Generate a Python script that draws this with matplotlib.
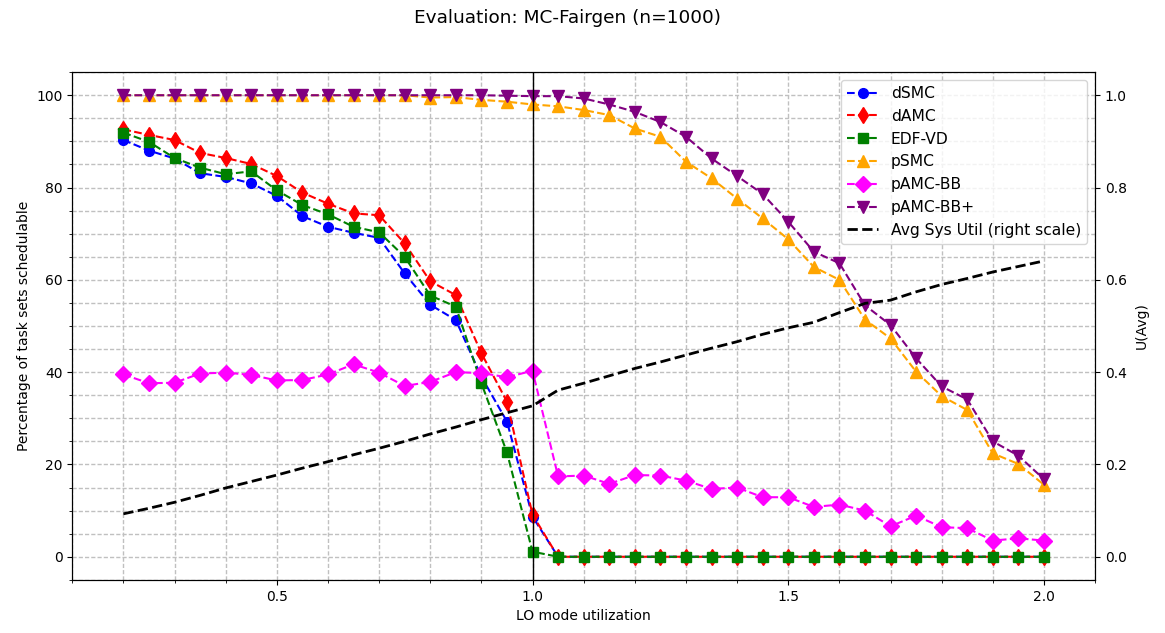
import numpy as np
import matplotlib
matplotlib.use('Agg')
from matplotlib import pyplot as plt
from matplotlib.ticker import MultipleLocator

# LO mode utilization steps
lo_util = [0.2, 0.25, 0.3, 0.35, 0.4, 0.45, 0.5, 0.55, 0.6, 0.65, 0.7, 0.75,
           0.8, 0.85, 0.9, 0.95, 1.0, 1.05, 1.1, 1.15, 1.2, 1.25, 1.3, 1.35,
           1.4, 1.45, 1.5, 1.55, 1.6, 1.65, 1.7, 1.75, 1.8, 1.85, 1.9, 1.95, 2.0]

zeros_after_1 = [0.0] * 20

dsmc = [90.3, 88.0, 86.3, 83.1, 82.3, 80.9, 78.2, 73.8, 71.5, 70.2, 69.1,
        61.4, 54.6, 51.3, 39.0, 29.3, 8.7] + zeros_after_1
damc = [92.6, 91.4, 90.3, 87.5, 86.4, 85.1, 82.5, 78.9, 76.5, 74.4, 74.0,
        67.9, 59.7, 56.7, 44.1, 33.6, 9.1] + zeros_after_1
edf_vd = [91.9, 89.9, 86.4, 84.3, 82.9, 83.5, 79.4, 76.2, 74.2, 71.5, 70.3,
          65.0, 56.6, 54.2, 37.6, 22.6, 1.1] + zeros_after_1
psmc = [100.0, 100.0, 100.0, 100.0, 100.0, 100.0, 100.0, 100.0, 100.0, 100.0,
        100.0, 100.0, 99.5, 99.6, 99.0, 98.6, 98.0, 97.6, 96.8, 95.7, 92.8,
        91.0, 85.6, 82.0, 77.6, 73.3, 68.8, 62.8, 60.0, 51.4, 47.3, 40.1,
        34.8, 31.8, 22.4, 20.1, 15.6]
pamc_bb = [39.5, 37.6, 37.7, 39.7, 39.9, 39.4, 38.2, 38.3, 39.5, 41.7, 39.9,
           37.0, 37.9, 40.0, 39.8, 38.9, 40.3, 17.4, 17.6, 15.8, 17.7, 17.6,
           16.5, 14.7, 15.0, 12.9, 12.9, 10.8, 11.3, 10.0, 6.6, 8.9, 6.4,
           6.2, 3.5, 4.0, 3.5]
pamc_bb_plus = [100.0, 100.0, 100.0, 100.0, 100.0, 100.0, 100.0, 100.0,
                100.0, 100.0, 100.0, 100.0, 100.0, 100.0, 100.0, 99.9, 99.8,
                99.8, 99.3, 98.0, 96.4, 94.2, 91.0, 86.3, 82.5, 78.6, 72.6,
                66.1, 63.6, 54.5, 50.2, 43.0, 36.9, 34.1, 25.0, 21.9, 16.8]
avg_util = [0.093, 0.105, 0.118, 0.133, 0.149, 0.163, 0.177, 0.192, 0.206,
            0.221, 0.235, 0.250, 0.266, 0.281, 0.297, 0.312, 0.327, 0.361,
            0.376, 0.392, 0.408, 0.422, 0.437, 0.452, 0.466, 0.482, 0.496,
            0.508, 0.529, 0.549, 0.556, 0.574, 0.590, 0.603, 0.617, 0.629,
            0.641]

fig, ax1 = plt.subplots(figsize=(11.65, 6.33), dpi=100)
fig.subplots_adjust(left=0.062, right=0.94, top=0.886, bottom=0.084)
fig.suptitle('Evaluation: MC-Fairgen (n=1000)', fontsize=13.3, x=0.487,
             y=0.985)

l1, = ax1.plot(lo_util, dsmc, 'o--', color='blue', ms=7, label='dSMC')
l2, = ax1.plot(lo_util, damc, 'd--', color='red', ms=8, label='dAMC')
l3, = ax1.plot(lo_util, edf_vd, 's--', color='green', ms=7, label='EDF-VD')
l4, = ax1.plot(lo_util, psmc, '^--', color='orange', ms=8, label='pSMC')
l5, = ax1.plot(lo_util, pamc_bb, 'D--', color='magenta', ms=8, label='pAMC-BB')
l6, = ax1.plot(lo_util, pamc_bb_plus, 'v--', color='purple', ms=8,
               label='pAMC-BB+')
ax1.axvline(1.0, color='black', lw=1)

ax1.set_xlabel('LO mode utilization')
ax1.set_ylabel('Percentage of task sets schedulable')
ax1.xaxis.set_major_locator(MultipleLocator(0.5))
ax1.xaxis.set_minor_locator(MultipleLocator(0.1))
ax1.yaxis.set_major_locator(MultipleLocator(20))
ax1.yaxis.set_minor_locator(MultipleLocator(5))
ax1.grid(True, which='both', linestyle=(0, (3, 1.5)), color='#c0c0c0', lw=1)
ax1.set_ylim(-5, 105)

ax2 = ax1.twinx()
l7, = ax2.plot(lo_util, avg_util, '--', color='black', lw=2,
               label='Avg Sys Util (right scale)')
ax2.set_ylabel('U(Avg)', labelpad=6)
ax2.set_ylim(-0.05, 1.05)
ax1.set_xlim(0.1, 2.1)

lines = [l1, l2, l3, l4, l5, l6, l7]
ax2.legend(lines, [l.get_label() for l in lines], loc='upper right',
           fontsize=11.2)

fig.savefig('out.png')
